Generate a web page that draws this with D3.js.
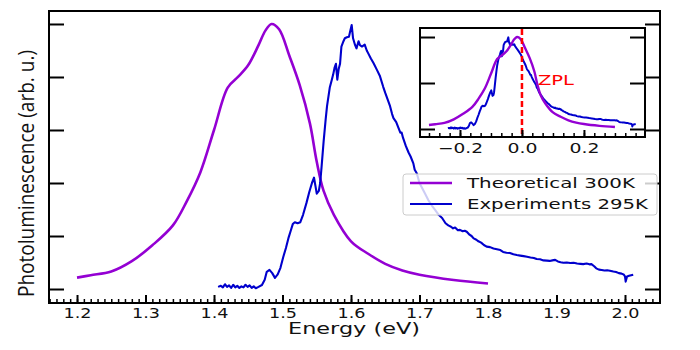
<!DOCTYPE html>
<html>
<head>
<meta charset="utf-8">
<title>Photoluminescence</title>
<script src="https://d3js.org/d3.v7.min.js"></script>
<style>
body { margin: 0; background: #fff; }
text { font-family: "DejaVu Sans", sans-serif; }
</style>
</head>
<body>
<div id="chart"></div>
<script>
// theoretical spectrum, 300K (energy in eV, normalised intensity)
var theoryE = [1.20, 1.22, 1.25, 1.28, 1.31, 1.34, 1.36, 1.38, 1.40, 1.42, 1.435, 1.45, 1.465, 1.475, 1.484, 1.495,
               1.51, 1.525, 1.54, 1.55, 1.56, 1.575, 1.60, 1.625, 1.65, 1.675, 1.70, 1.75, 1.80];
var theoryI = [0.043, 0.052, 0.066, 0.105, 0.165, 0.24, 0.33, 0.44, 0.60, 0.76, 0.80, 0.845, 0.92, 0.975, 1.0, 0.98,
               0.88, 0.77, 0.625, 0.48, 0.37, 0.28, 0.18, 0.133, 0.095, 0.07, 0.054, 0.034, 0.021];

// experimental spectrum, 295K
var expE = [1.406, 1.410, 1.413, 1.416, 1.419, 1.422, 1.425, 1.428, 1.431, 1.434, 1.437, 1.440, 1.443, 1.446, 1.449,
            1.452, 1.455, 1.458, 1.461, 1.465, 1.470, 1.474, 1.477, 1.481, 1.485, 1.489, 1.493, 1.497, 1.501, 1.505,
            1.509, 1.512, 1.515, 1.518, 1.522, 1.526, 1.530, 1.535, 1.539, 1.543, 1.546, 1.548, 1.550, 1.553, 1.555,
            1.557, 1.560, 1.563, 1.565, 1.569, 1.572, 1.574, 1.576, 1.578, 1.580, 1.582, 1.584, 1.586, 1.589, 1.591,
            1.594, 1.597, 1.599, 1.601, 1.603, 1.606, 1.608, 1.611, 1.613, 1.616, 1.620, 1.623, 1.625, 1.629, 1.633,
            1.638, 1.642, 1.647, 1.650, 1.652, 1.657, 1.660, 1.662, 1.666, 1.669, 1.672, 1.674, 1.676, 1.680, 1.684,
            1.687, 1.691, 1.693, 1.696, 1.700, 1.704, 1.708, 1.713, 1.718, 1.723, 1.728, 1.733, 1.738, 1.742, 1.746,
            1.749, 1.752, 1.756, 1.759, 1.763, 1.766, 1.769, 1.773, 1.776, 1.779, 1.783, 1.786, 1.790, 1.794, 1.798,
            1.803, 1.808, 1.813, 1.818, 1.822, 1.827, 1.832, 1.837, 1.842, 1.847, 1.852, 1.857, 1.862, 1.867, 1.871,
            1.876, 1.881, 1.886, 1.890, 1.894, 1.898, 1.902, 1.906, 1.910, 1.915, 1.920, 1.925, 1.930, 1.935, 1.939,
            1.944, 1.948, 1.951, 1.955, 1.958, 1.962, 1.966, 1.970, 1.974, 1.978, 1.983, 1.987, 1.991, 1.995, 1.998,
            2.000, 2.001, 2.003, 2.006, 2.009, 2.012];
var expI = [0.008, 0.012, 0.006, 0.018, 0.008, 0.014, 0.004, 0.016, 0.006, 0.012, 0.004, 0.010, 0.006, 0.016, 0.008,
            0.014, 0.004, 0.010, 0.003, 0.008, 0.015, 0.035, 0.065, 0.072, 0.060, 0.042, 0.055, 0.08, 0.12, 0.155,
            0.195, 0.22, 0.245, 0.252, 0.248, 0.252, 0.28, 0.325, 0.365, 0.40, 0.42, 0.39, 0.36, 0.37, 0.40,
            0.46, 0.556, 0.64, 0.69, 0.76, 0.79, 0.81, 0.835, 0.85, 0.79, 0.83, 0.85, 0.915, 0.935, 0.946,
            0.95, 0.952, 0.975, 0.996, 0.946, 0.92, 0.908, 0.935, 0.92, 0.915, 0.922, 0.90, 0.89, 0.87, 0.852,
            0.826, 0.805, 0.763, 0.74, 0.726, 0.69, 0.66, 0.645, 0.63, 0.61, 0.59, 0.59, 0.57, 0.54, 0.515,
            0.50, 0.474, 0.45, 0.437, 0.40, 0.38, 0.36, 0.335, 0.315, 0.298, 0.28, 0.268, 0.248, 0.24, 0.235,
            0.229, 0.232, 0.222, 0.223, 0.218, 0.22, 0.216, 0.205, 0.20, 0.191, 0.186, 0.18, 0.175, 0.166, 0.16,
            0.158, 0.153, 0.15, 0.147, 0.14, 0.137, 0.136, 0.131, 0.128, 0.126, 0.124, 0.122, 0.119, 0.117, 0.113,
            0.112, 0.108, 0.107, 0.106, 0.108, 0.110, 0.104, 0.101, 0.099, 0.100, 0.098, 0.099, 0.096, 0.095, 0.094,
            0.096, 0.093, 0.094, 0.086, 0.078, 0.073, 0.072, 0.070, 0.071, 0.069, 0.066, 0.064, 0.060, 0.058, 0.055,
            0.048, 0.028, 0.047, 0.05, 0.052, 0.054];

// zero-phonon line positions used for the inset (eV)
var zplTheory = 1.50;
var zplExp = 1.645;

var xTicks = [1.2, 1.3, 1.4, 1.5, 1.6, 1.7, 1.8, 1.9, 2.0];
var yTicks = [0, 0.2, 0.4, 0.6, 0.8, 1.0];
var insetXTicks = [-0.2, 0.0, 0.2];
var insetYTicks = [0, 0.5, 1.0];
var seriesNames = ["Theoretical 300K", "Experiments 295K"];
var seriesColors = ["#9400d3", "#0000cd"];

var width = 700, height = 350;
var svg = d3.select("#chart").append("svg").attr("width", width).attr("height", height);

// main axes
var x = d3.scaleLinear().domain([1.1591, 2.0511]).range([49, 660]);
var y = d3.scaleLinear().domain([-0.0528, 1.049]).range([303, 11]);

var theory = theoryE.map(function(e, i) { return {e: e, v: theoryI[i]}; });
var exp = expE.map(function(e, i) { return {e: e, v: expI[i]}; });

function stretch(sel, w) {
  sel.attr("textLength", w).attr("lengthAdjust", "spacingAndGlyphs");
}

var line = d3.line().x(function(d) { return x(d.e); }).y(function(d) { return y(d.v); });
var smooth = d3.line().curve(d3.curveCatmullRom).x(function(d) { return x(d.e); }).y(function(d) { return y(d.v); });

svg.append("path").datum(theory).attr("d", smooth)
  .attr("fill", "none").attr("stroke", seriesColors[0]).attr("stroke-width", 2.6);
svg.append("path").datum(exp).attr("d", line)
  .attr("fill", "none").attr("stroke", seriesColors[1]).attr("stroke-width", 2.1).attr("stroke-linejoin", "round");

// ticks (inward, like matplotlib direction='in')
var gx = svg.append("g").attr("transform", "translate(0,303)")
  .call(d3.axisBottom(x).tickValues(xTicks).tickSize(-8).tickFormat(d3.format(".1f")));
gx.select(".domain").remove();
gx.selectAll("line").attr("stroke", "#000").attr("stroke-width", 2);
gx.selectAll("text").attr("y", 0).attr("dy", 0).attr("transform", "translate(0,15)")
  .style("font-size", "13.5px").style("fill", "#111").call(stretch, 28);

var gxm = svg.append("g").attr("transform", "translate(0,303)")
  .call(d3.axisBottom(x).tickValues(d3.range(116, 206).map(function(v) { return v / 100; })).tickSize(-4).tickFormat(""));
gxm.select(".domain").remove();
gxm.selectAll("line").attr("stroke", "#000").attr("stroke-width", 1.5);

var gyl = svg.append("g").attr("transform", "translate(49,0)")
  .call(d3.axisLeft(y).tickValues(yTicks).tickSize(-15).tickFormat(""));
var gyr = svg.append("g").attr("transform", "translate(660,0)")
  .call(d3.axisRight(y).tickValues(yTicks).tickSize(-15).tickFormat(""));
[gyl, gyr].forEach(function(g) {
  g.select(".domain").remove();
  g.selectAll("line").attr("stroke", "#000").attr("stroke-width", 2);
});

svg.append("rect").attr("x", 49).attr("y", 11).attr("width", 611).attr("height", 292)
  .attr("fill", "none").attr("stroke", "#000").attr("stroke-width", 2);

// axis labels
svg.append("text").attr("x", 354).attr("y", 334).attr("text-anchor", "middle")
  .style("font-size", "15px").style("fill", "#111").text("Energy (eV)").call(stretch, 132);
svg.append("text").attr("transform", "translate(34,173.5) scale(1.4,1) rotate(-90)")
  .attr("text-anchor", "middle").style("font-family", "'Open Sans', sans-serif").style("font-size", "15px")
  .style("fill", "#111").text("Photoluminescence (arb. u.)").call(stretch, 247);

// legend
var lg = svg.append("g");
lg.append("rect").attr("x", 403).attr("y", 174).attr("width", 254).attr("height", 41).attr("rx", 3)
  .attr("fill", "#fff").attr("fill-opacity", 0.8).attr("stroke", "#ccc").attr("stroke-width", 1);
var legendY = [183, 204], legendW = [168, 181];
seriesNames.forEach(function(name, i) {
  lg.append("line").attr("x1", 410).attr("x2", 452).attr("y1", legendY[i]).attr("y2", legendY[i])
    .attr("stroke", seriesColors[i]).attr("stroke-width", i === 0 ? 2.6 : 1.8);
  lg.append("text").attr("x", 467).attr("y", legendY[i] + 5).style("font-size", "14px").style("fill", "#111")
    .text(name).call(stretch, legendW[i]);
});

// inset: spectra shifted to their zero-phonon line
var ix = d3.scaleLinear().domain([-0.329, 0.397]).range([420, 645]);
var iy = d3.scaleLinear().domain([-0.087, 1.098]).range([137, 28]);
var inset = svg.append("g");
inset.append("rect").attr("x", 420).attr("y", 28).attr("width", 225).attr("height", 109).attr("fill", "#fff");

var iLine = d3.line().x(function(d) { return ix(d.e); }).y(function(d) { return iy(d.v); });
var iSmooth = d3.line().curve(d3.curveCatmullRom).x(function(d) { return ix(d.e); }).y(function(d) { return iy(d.v); });
inset.append("path").datum(exp.map(function(d) { return {e: d.e - zplExp, v: d.v}; })).attr("d", iLine)
  .attr("fill", "none").attr("stroke", seriesColors[1]).attr("stroke-width", 2).attr("stroke-linejoin", "round");
inset.append("path").datum(theory.map(function(d) { return {e: d.e - zplTheory, v: d.v}; })).attr("d", iSmooth)
  .attr("fill", "none").attr("stroke", seriesColors[0]).attr("stroke-width", 2.4);

inset.append("line").attr("x1", ix(0)).attr("x2", ix(0)).attr("y1", 29).attr("y2", 136)
  .attr("stroke", "#ff0000").attr("stroke-width", 2.5).attr("stroke-dasharray", "6,3");
inset.append("text").attr("x", 538).attr("y", 85).style("font-size", "14px").style("fill", "#ff0000")
  .text("ZPL").call(stretch, 36);

var igx = inset.append("g").attr("transform", "translate(0,137)")
  .call(d3.axisBottom(ix).tickValues(insetXTicks).tickSize(-7).tickFormat(function(d) { return d3.format(".1f")(d).replace("-", "\u2212"); }));
igx.select(".domain").remove();
igx.selectAll("line").attr("stroke", "#000").attr("stroke-width", 2);
igx.selectAll("text").attr("y", 0).attr("dy", 0).attr("transform", "translate(0,16)")
  .style("font-size", "13.5px").style("fill", "#111")
  .each(function(d) { stretch(d3.select(this), d < 0 ? 45 : 30); });

var igxm = inset.append("g").attr("transform", "translate(0,137)")
  .call(d3.axisBottom(ix).tickValues(d3.range(-9, 12).map(function(v) { return v / 30; })).tickSize(-4).tickFormat(""));
igxm.select(".domain").remove();
igxm.selectAll("line").attr("stroke", "#000").attr("stroke-width", 1.5);

var igl = inset.append("g").attr("transform", "translate(420,0)")
  .call(d3.axisLeft(iy).tickValues(insetYTicks).tickSize(-15).tickFormat(""));
var igr = inset.append("g").attr("transform", "translate(645,0)")
  .call(d3.axisRight(iy).tickValues(insetYTicks).tickSize(-15).tickFormat(""));
[igl, igr].forEach(function(g) {
  g.select(".domain").remove();
  g.selectAll("line").attr("stroke", "#000").attr("stroke-width", 2);
});
inset.append("rect").attr("x", 420).attr("y", 28).attr("width", 225).attr("height", 109)
  .attr("fill", "none").attr("stroke", "#000").attr("stroke-width", 2);
</script>
</body>
</html>
